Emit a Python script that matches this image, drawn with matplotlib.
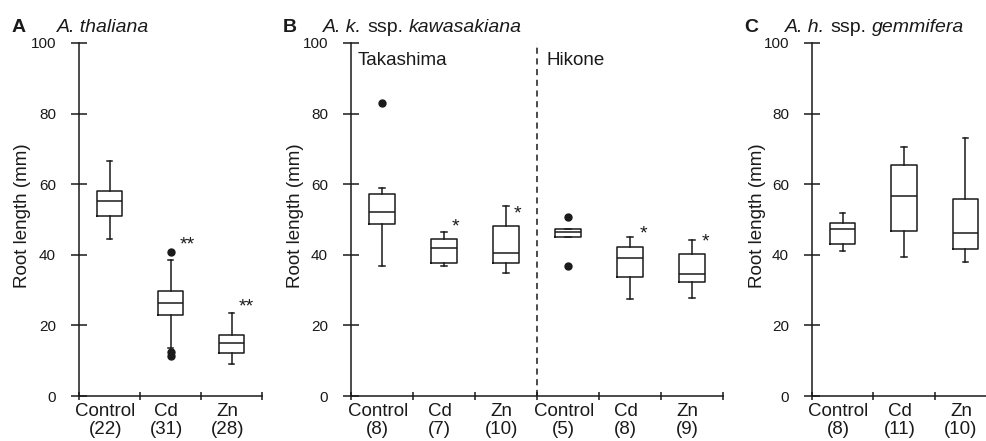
import matplotlib
matplotlib.use("Agg")
import matplotlib.pyplot as plt

plt.rcParams["font.family"] = ["Liberation Sans", "DejaVu Sans"]

# ---------------------------------------------------------------------------
# Data (root length, mm)
# ---------------------------------------------------------------------------
A_labels = ["Control\n(22)", "Cd\n(31)", "Zn\n(28)"]
A_whislo = [44.4, 13.6, 9.2]
A_q1 = [51.0, 23.0, 12.3]
A_med = [55.1, 26.4, 14.9]
A_q3 = [58.2, 29.7, 17.3]
A_whishi = [66.6, 38.5, 23.6]
A_fliers = [[], [40.9, 12.4, 11.3], []]
A_star_x = [1.77, 2.75]
A_star_y = [43.8, 26.3]
A_star_txt = ["**", "**"]

B_labels = ["Control\n(8)", "Cd\n(7)", "Zn\n(10)", "Control\n(5)", "Cd\n(8)", "Zn\n(9)"]
B_whislo = [36.8, 36.8, 34.8, 45.1, 27.4, 27.8]
B_q1 = [48.8, 37.8, 37.7, 45.1, 33.8, 32.4]
B_med = [52.1, 41.8, 40.6, 46.5, 39.1, 34.7]
B_q3 = [57.2, 44.4, 48.2, 47.3, 42.3, 40.1]
B_whishi = [59.0, 46.6, 53.9, 47.3, 45.1, 44.2]
B_fliers = [[82.9], [], [], [50.8, 36.7], [], []]
B_star_x = [1.68, 2.69, 4.71, 5.72]
B_star_y = [48.9, 52.5, 46.8, 44.7]
B_star_txt = ["*", "*", "*", "*"]
B_sites = ["Takashima", "Hikone"]
B_site_x = [0.1, 3.15]

C_labels = ["Control\n(8)", "Cd\n(11)", "Zn\n(10)"]
C_whislo = [41.2, 39.3, 38.0]
C_q1 = [43.2, 46.7, 41.7]
C_med = [47.3, 56.7, 46.3]
C_q3 = [49.1, 65.5, 55.9]
C_whishi = [51.7, 70.6, 73.2]
C_fliers = [[], [], []]

W, H = 986, 441
INK = "#1a1a1a"


def px_rect(left, right, top=43, bottom=396):
    return [left / W, 1 - bottom / H, (right - left) / W, (bottom - top) / H]


def draw_panel(ax, labels, whislo, q1, med, q3, whishi, fliers,
               star_x=(), star_y=(), star_txt=()):
    n = len(labels)
    stats = [
        dict(whislo=whislo[i], q1=q1[i], med=med[i], q3=q3[i],
             whishi=whishi[i], fliers=fliers[i])
        for i in range(n)
    ]
    pos = [i + 0.5 for i in range(n)]
    line = dict(color=INK, linewidth=1.1)
    ax.bxp(stats, positions=pos, widths=0.41, capwidths=0.09,
           boxprops=line, whiskerprops=line, capprops=line,
           medianprops=line,
           flierprops=dict(marker="o", markerfacecolor=INK,
                           markeredgecolor=INK, markersize=5))

    ax.set_xlim(0, n)
    ax.set_ylim(0, 100)
    for side in ("top", "right"):
        ax.spines[side].set_visible(False)
    for side in ("left", "bottom"):
        ax.spines[side].set_linewidth(1.1)
        ax.spines[side].set_color(INK)

    ax.set_yticks(range(0, 101, 20))
    ax.tick_params(axis="y", direction="inout", length=11, width=1.1,
                   color=INK, labelsize=11, pad=11, labelcolor=INK)
    ax.set_xticks(range(n + 1))
    ax.set_xticklabels([])
    ax.tick_params(axis="x", which="major", direction="inout", length=6,
                   width=1.1, color=INK)
    ax.set_xticks([p - 0.07 for p in pos], minor=True)
    ax.set_xticklabels(labels, minor=True)
    ax.tick_params(axis="x", which="minor", length=0, labelsize=13.5,
                   pad=5, labelcolor=INK)
    for t in ax.get_xticklabels(minor=True):
        t.set_linespacing(1.1)

    for x, y, s in zip(star_x, star_y, star_txt):
        ax.text(x, y - 1.0, s, fontsize=14, ha="center", va="center",
                color=INK)


def rich_title(fig, x_px, y_px, parts, fontsize):
    """Place text pieces of mixed style one after another on a baseline."""
    renderer = fig.canvas.get_renderer()
    space = 0.278 * fontsize * 100 / 72
    x = x_px
    for s, style in parts:
        t = fig.text(x / W, 1 - y_px / H, s, fontsize=fontsize, style=style,
                     va="baseline", ha="left", color=INK)
        x += t.get_window_extent(renderer).width + space


fig = plt.figure(figsize=(W / 100, H / 100), dpi=100)

axA = fig.add_axes(px_rect(79, 262))
draw_panel(axA, A_labels, A_whislo, A_q1, A_med, A_q3, A_whishi, A_fliers,
           A_star_x, A_star_y, A_star_txt)

axB = fig.add_axes(px_rect(351, 723))
draw_panel(axB, B_labels, B_whislo, B_q1, B_med, B_q3, B_whishi, B_fliers,
           B_star_x, B_star_y, B_star_txt)
axB.axvline(3, color=INK, linestyle=(0, (4, 3)), linewidth=1.1)
for x, s in zip(B_site_x, B_sites):
    axB.text(x, 95, s, fontsize=13.5, ha="left", va="center", color=INK)

axC = fig.add_axes(px_rect(812, 996))
draw_panel(axC, C_labels, C_whislo, C_q1, C_med, C_q3, C_whishi, C_fliers)

# panel letters, titles and y labels (figure pixel coordinates)
titles = [
    (12, 57, "A", [("A. thaliana", "italic")]),
    (283, 323, "B", [("A. k.", "italic"), ("ssp.", "normal"),
                     ("kawasakiana", "italic")]),
    (744, 785, "C", [("A. h.", "italic"), ("ssp.", "normal"),
                     ("gemmifera", "italic")]),
]
for xl, xt, letter, parts in titles:
    fig.text(xl / W, 1 - 32 / H, letter, fontsize=14, fontweight="bold",
             va="baseline", ha="left", color=INK)
    rich_title(fig, xt, 32, parts, 14)

for xc in (23, 295, 757):
    fig.text(xc / W, 1 - 216 / H, "Root length (mm)", fontsize=13.5,
             rotation=90, ha="center", va="center", color=INK)

fig.savefig("out.png", dpi=100)
